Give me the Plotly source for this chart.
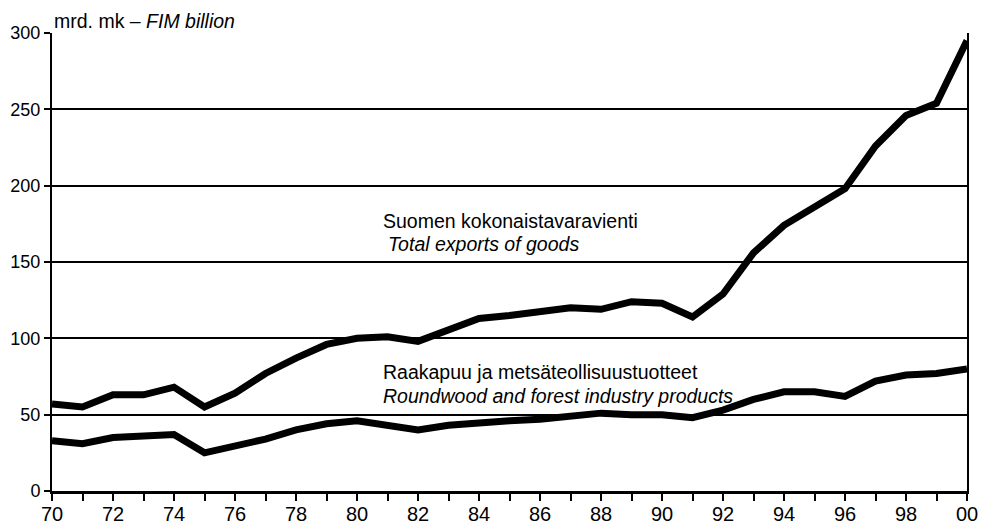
import plotly.graph_objects as go

# Years 1970-2000
years = list(range(1970, 2001))

# Finland's total exports of goods, FIM billion
total_exports = [57, 55, 63, 63, 68, 55, 64, 77, 87, 96,
                 100, 101, 98, 106, 113, 115, 117, 120, 119, 124,
                 123, 114, 129, 156, 174, 186, 198, 226, 246, 254,
                 295]

# Roundwood and forest industry products, FIM billion
forest_exports = [33, 31, 35, 36, 37, 25, 29, 34, 40, 44,
                  46, 43, 40, 43, 45, 46, 47, 49, 51, 50,
                  50, 48, 53, 60, 65, 65, 62, 72, 76, 77,
                  80]

x_tick_vals = years
x_tick_text = [f"{y % 100:02d}" if y % 2 == 0 else "" for y in years]
y_tick_vals = [0, 50, 100, 150, 200, 250, 300]

FONT = "Liberation Sans, Arial, sans-serif"
LABEL_SIZE = 19.5

fig = go.Figure()
for series in (total_exports, forest_exports):
    fig.add_trace(go.Scatter(
        x=years, y=series, mode="lines",
        line=dict(color="black", width=7),
        showlegend=False, hoverinfo="skip",
    ))

fig.update_layout(
    width=986, height=530,
    margin=dict(l=52, r=19, t=33, b=39),
    paper_bgcolor="white", plot_bgcolor="white",
    font=dict(family=FONT, color="black", size=LABEL_SIZE),
    xaxis=dict(
        range=[1970, 2000], automargin=False,
        tickmode="array", tickvals=x_tick_vals, ticktext=x_tick_text,
        ticks="outside", ticklen=7, tickwidth=2, tickcolor="black",
        ticklabelstandoff=-4,
        showline=True, linecolor="black", linewidth=3,
        showgrid=False, zeroline=False,
        tickfont=dict(size=20),
    ),
    yaxis=dict(
        range=[0, 300], automargin=False,
        tickmode="array", tickvals=y_tick_vals,
        ticks="outside", ticklen=6, tickwidth=2, tickcolor="black",
        ticklabelstandoff=0,
        showline=True, linecolor="black", linewidth=2, mirror=True,
        showgrid=True, gridcolor="black", gridwidth=2,
        zeroline=False,
        tickfont=dict(size=18),
    ),
    annotations=[
        dict(x=0, y=1, xref="paper", yref="paper", xanchor="left", yanchor="bottom",
             text="mrd. mk – <i>FIM billion</i>", showarrow=False,
             font=dict(size=LABEL_SIZE), xshift=0, yshift=-1),
        dict(x=1980.8, y=177, xref="x", yref="y", xanchor="left", yanchor="middle",
             text="Suomen kokonaistavaravienti", showarrow=False),
        dict(x=1980.95, y=161.5, xref="x", yref="y", xanchor="left", yanchor="middle",
             text="<i>Total exports of goods</i>", showarrow=False),
        dict(x=1980.8, y=78, xref="x", yref="y", xanchor="left", yanchor="middle",
             text="Raakapuu ja metsäteollisuustuotteet", showarrow=False),
        dict(x=1980.8, y=62.5, xref="x", yref="y", xanchor="left", yanchor="middle",
             text="<i>Roundwood and forest industry products</i>", showarrow=False),
    ],
)

fig.write_html("out.html")
